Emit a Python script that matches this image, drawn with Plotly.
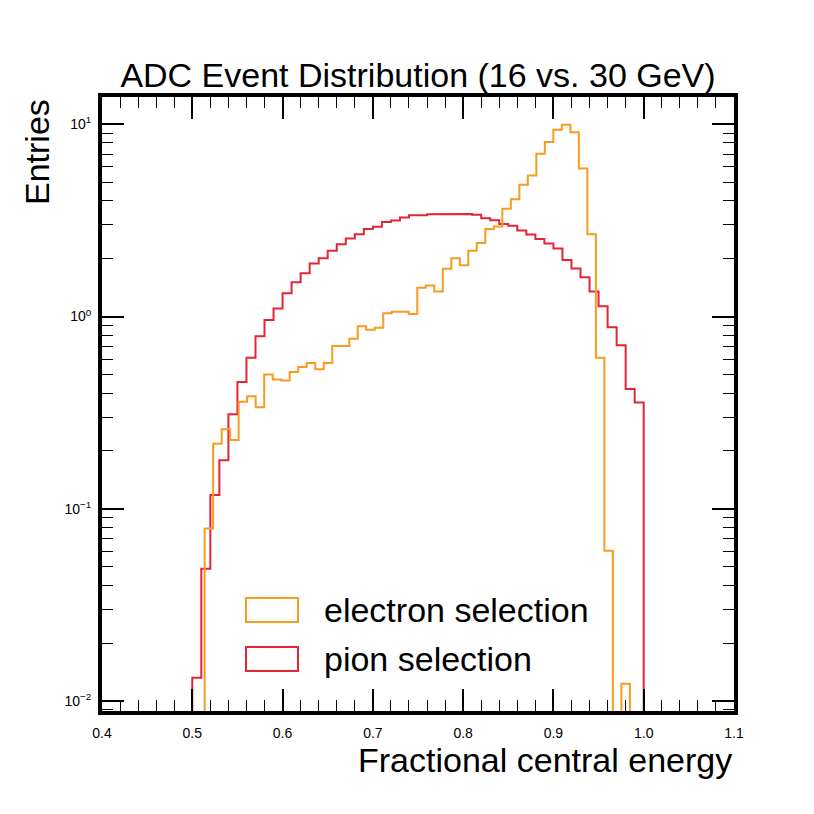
import numpy as np
import plotly.graph_objects as go

# ---------------- data ----------------
# electron selection: 50 bins spanning its own data range
electron_range = (0.5137, 0.9847)
electron_values = [
    0.079, 0.218, 0.259, 0.228, 0.36, 0.385, 0.337, 0.50, 0.47, 0.465,
    0.515, 0.547, 0.574, 0.532, 0.574, 0.703, 0.703, 0.766, 0.89, 0.853,
    0.873, 1.04, 1.06, 1.06, 1.03, 1.41, 1.45, 1.35, 1.77, 2.01,
    1.85, 2.20, 2.41, 2.85, 2.94, 3.64, 4.07, 4.85, 5.42, 7.03,
    8.1, 9.38, 9.96, 9.09, 5.89, 2.68, 0.61, 0.0605, 0.0, 0.0123,
]
# pion selection: 50 bins from 0.50 to 1.00
pion_range = (0.50, 1.00)
pion_values = [
    0.0132, 0.0488, 0.118, 0.179, 0.31, 0.457, 0.61, 0.79, 0.96, 1.10,
    1.32, 1.51, 1.68, 1.89, 2.01, 2.20, 2.38, 2.55, 2.68, 2.85,
    2.93, 3.10, 3.16, 3.27, 3.36, 3.36, 3.40, 3.43, 3.42, 3.40,
    3.41, 3.38, 3.25, 3.17, 3.03, 2.97, 2.80, 2.67, 2.53, 2.40,
    2.26, 1.97, 1.78, 1.60, 1.35, 1.13, 0.88, 0.71, 0.42, 0.357,
]
series_names = ["electron selection", "pion selection"]
series_colors = ["#f89c20", "#e42536"]

x_range = [0.4, 1.1]
x_tickvals = [0.4, 0.5, 0.6, 0.7, 0.8, 0.9, 1.0, 1.1]
x_ticktext = ["0.4", "0.5", "0.6", "0.7", "0.8", "0.9", "1.0", "1.1"]
y_log_range = [-2.052, 1.142]
y_tickvals = [0.01, 0.1, 1, 10]
y_ticktext = ["10<sup>\u22122</sup>", "10<sup>\u22121</sup>", "10<sup>0</sup>", "10<sup>1</sup>"]

title_text = "ADC Event Distribution (16 vs. 30 GeV)"
xlabel = "Fractional central energy"
ylabel = "Entries"


def step_xy(rng, vals, floor=1e-5):
    edges = np.linspace(rng[0], rng[1], len(vals) + 1)
    xs, ys = [edges[0]], [floor]
    for i, v in enumerate(vals):
        vv = v if v > 0 else floor
        xs += [edges[i], edges[i + 1]]
        ys += [vv, vv]
    xs.append(edges[-1])
    ys.append(floor)
    return xs, ys


FONT = "Liberation Sans, Arial, Helvetica, sans-serif"

fig = go.Figure()
ex, ey = step_xy(electron_range, electron_values)
px_, py_ = step_xy(pion_range, pion_values)
fig.add_trace(go.Scatter(x=px_, y=py_, mode="lines", name=series_names[1],
                         line=dict(color=series_colors[1], width=2), showlegend=False))
fig.add_trace(go.Scatter(x=ex, y=ey, mode="lines", name=series_names[0],
                         line=dict(color=series_colors[0], width=2), showlegend=False))

# page body has an 8px margin: figure drawn at (8, 8)
OFF = 8
W = H = 806
L, R, T, B = 102 - OFF, 80, 97 - OFF, 103

fig.update_layout(
    width=W, height=H,
    margin=dict(l=L, r=R, t=T, b=B),
    paper_bgcolor="white", plot_bgcolor="white",
    font=dict(family=FONT, color="black"),
    showlegend=False,
    title=dict(text=title_text, x=0.5, xref="paper", xanchor="center",
               y=1 - (75 - OFF) / H, yref="container", yanchor="middle",
               font=dict(size=34, family=FONT, color="black")),
)
fig.update_xaxes(
    range=x_range, tickvals=x_tickvals, ticktext=x_ticktext,
    ticks="inside", ticklen=22, tickwidth=1.8, tickcolor="black",
    showline=True, linewidth=4, linecolor="black", mirror="ticks",
    showgrid=False, zeroline=False,
    tickfont=dict(size=14, family=FONT, color="black"),
    ticklabelstandoff=6,
    minor=dict(ticks="inside", ticklen=11, tickwidth=1.4, tickcolor="black",
               dtick=0.02, showgrid=False),
)
fig.update_yaxes(
    type="log", range=y_log_range, tickvals=y_tickvals, ticktext=y_ticktext,
    ticks="inside", ticklen=22, tickwidth=1.8, tickcolor="black",
    showline=True, linewidth=4, linecolor="black", mirror="ticks",
    showgrid=False, zeroline=False,
    tickfont=dict(size=14, family=FONT, color="black"),
    ticklabelstandoff=4,
    minor=dict(ticks="inside", ticklen=11, tickwidth=1.4, tickcolor="black",
               dtick="D1", showgrid=False),
)

pw, ph = W - L - R, H - T - B
PL, PB = 102, 711  # plot-area left / bottom in page pixels


def pxx(v):
    return (v - PL) / pw


def pyy(v):
    return (PB - v) / ph


# axis labels
fig.add_annotation(text=xlabel, xref="paper", yref="paper", x=1.0, y=pyy(760),
                   xanchor="right", yanchor="middle", showarrow=False,
                   font=dict(size=34, family=FONT, color="black"))
fig.add_annotation(text=ylabel, xref="paper", yref="paper", x=pxx(37), y=1.0,
                   xanchor="center", yanchor="top", textangle=-90, showarrow=False,
                   font=dict(size=34, family=FONT, color="black"))

# legend drawn as boxes + labels
legend_rows = [610, 659]
for name, col, yc in zip(series_names, series_colors, legend_rows):
    fig.add_shape(type="rect", xref="paper", yref="paper",
                  x0=pxx(246), x1=pxx(298), y0=pyy(yc - 12), y1=pyy(yc + 12),
                  line=dict(color=col, width=2), fillcolor="white", layer="above")
    fig.add_annotation(text=name, xref="paper", yref="paper", x=pxx(322), y=pyy(yc),
                       xanchor="left", yanchor="middle", showarrow=False,
                       font=dict(size=34, family=FONT, color="black"))

fig.write_html("out.html")
